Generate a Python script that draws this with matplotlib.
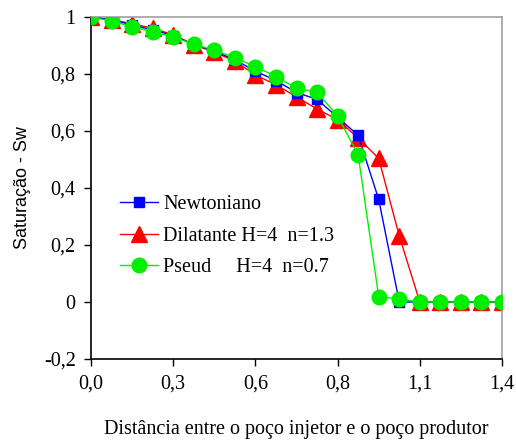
import matplotlib
matplotlib.use("Agg")
import matplotlib.pyplot as plt

# distance between injector and producer wells (21 grid points)
distancia = [i * 0.06875 for i in range(21)]

newtoniano = [1.0, 0.99, 0.972, 0.955, 0.935, 0.903, 0.88, 0.85, 0.81, 0.777,
              0.735, 0.711, 0.648, 0.585, 0.36, 0.0, 0.0, 0.0, 0.0, 0.0, 0.0]
dilatante = [1.0, 0.99, 0.977, 0.96, 0.938, 0.903, 0.877, 0.845, 0.797, 0.762,
             0.72, 0.677, 0.64, 0.575, 0.504, 0.232, 0.0, 0.0, 0.0, 0.0, 0.0]
pseud = [1.0, 0.986, 0.966, 0.948, 0.931, 0.904, 0.884, 0.857, 0.826, 0.791,
         0.75, 0.736, 0.653, 0.516, 0.019, 0.01, 0.0, 0.0, 0.0, 0.0, 0.0]

x_ticks = [0.0, 0.275, 0.55, 0.825, 1.1, 1.375]
x_labels = ['0,0', '0,3', '0,6', '0,8', '1,1', '1,4']
y_ticks = [-0.2, 0.0, 0.2, 0.4, 0.6, 0.8, 1.0]
y_labels = ['-0,2', '0', '0,2', '0,4', '0,6', '0,8', '1']

plt.rcParams['font.family'] = ['Liberation Serif', 'DejaVu Serif']

fig = plt.figure(figsize=(5.16, 4.41), dpi=100)
ax = fig.add_axes([91 / 516, 82 / 441, 411 / 516, 342 / 441])

ax.plot(distancia, dilatante, color='#ff0000', lw=1.0, marker='^', ms=11.5,
        label='Dilatante H=4  n=1.3', zorder=2)
ax.plot(distancia, newtoniano, color='#0000ff', lw=1.0, marker='s', ms=6.5,
        label='Newtoniano', zorder=3)
ax.plot(distancia, pseud, color='#00ee00', lw=1.0, marker='o', ms=10.5,
        label='Pseud     H=4  n=0.7', zorder=4)

ax.set_xlim(0, 1.375)
ax.set_ylim(-0.2, 1.0)
ax.set_xticks(x_ticks)
ax.set_xticklabels(x_labels)
ax.set_yticks(y_ticks)
ax.set_yticklabels(y_labels)
ax.tick_params(direction='out', length=5, width=1, labelsize=14.5, colors='black')
ax.tick_params(axis='x', pad=6)
ax.tick_params(axis='y', pad=6)

for side in ['left', 'bottom']:
    ax.spines[side].set_color('black')
    ax.spines[side].set_linewidth(1.2)
for side in ['top', 'right']:
    ax.spines[side].set_color('#a0a0a0')
    ax.spines[side].set_linewidth(1.2)

ax.set_xlabel('Distância entre o poço injetor e o poço produtor', fontsize=14.5, labelpad=19)
ax.set_ylabel('Saturação - Sw', fontsize=13, family=['Liberation Sans'], labelpad=9)

handles, labels = ax.get_legend_handles_labels()
order = [1, 0, 2]
ax.legend([handles[i] for i in order], [labels[i] for i in order],
          loc='upper left', bbox_to_anchor=(0.051, 0.503), frameon=False,
          fontsize=14.5, handlelength=1.9, handletextpad=0.25, labelspacing=0.62,
          borderaxespad=0)

fig.savefig('out.png', dpi=100)
